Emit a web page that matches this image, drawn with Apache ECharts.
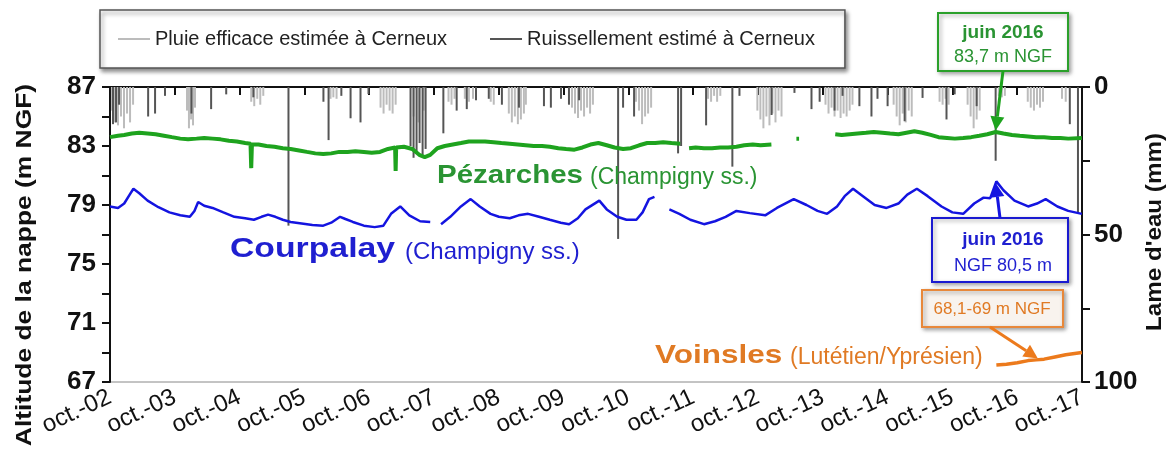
<!DOCTYPE html>
<html>
<head>
<meta charset="utf-8">
<script src="https://cdn.jsdelivr.net/npm/echarts@6/dist/echarts.min.js"></script>
<style>
  html, body { margin: 0; padding: 0; background: #fff; }
  #chart { width: 1173px; height: 461px; }
</style>
</head>
<body>
<div id="chart"></div>
<script>
// axis labels
const xTickLabels = ['oct.-02', 'oct.-03', 'oct.-04', 'oct.-05', 'oct.-06', 'oct.-07', 'oct.-08', 'oct.-09',
  'oct.-10', 'oct.-11', 'oct.-12', 'oct.-13', 'oct.-14', 'oct.-15', 'oct.-16', 'oct.-17']
const leftLabels = [67, 71, 75, 79, 83, 87]
const leftTicks = [67, 69, 71, 73, 75, 77, 79, 81, 83, 85, 87]
const rightLabels = [0, 50, 100]

// niveau de la nappe (m NGF), null = lacune
const pezarches = [
  ['2002-10-01', 83.6], ['2002-11-15', 83.7], ['2002-12-20', 83.75], ['2003-02-01', 83.85], ['2003-03-15', 83.9],
  ['2003-05-01', 83.85], ['2003-06-15', 83.8], ['2003-08-01', 83.7], ['2003-09-15', 83.6], ['2003-11-01', 83.5],
  ['2003-12-15', 83.45], ['2004-02-01', 83.5], ['2004-03-15', 83.55], ['2004-05-01', 83.5], ['2004-06-15', 83.45],
  ['2004-08-01', 83.35], ['2004-09-15', 83.3], ['2004-11-01', 83.2], ['2004-12-01', 83.15], ['2004-12-05', 81.5],
  ['2004-12-09', 83.1], ['2005-01-15', 83.1], ['2005-03-01', 83.0], ['2005-04-15', 82.95], ['2005-06-01', 82.85],
  ['2005-07-15', 82.8], ['2005-09-01', 82.7], ['2005-10-15', 82.6], ['2005-12-01', 82.5], ['2006-01-15', 82.45],
  ['2006-03-01', 82.5], ['2006-04-15', 82.6], ['2006-06-01', 82.6], ['2006-07-15', 82.65], ['2006-09-01', 82.6],
  ['2006-10-15', 82.55], ['2006-12-01', 82.6], ['2007-01-15', 82.8], ['2007-02-24', 82.9], ['2007-02-27', 81.3],
  ['2007-03-02', 82.9], ['2007-04-15', 82.95], ['2007-06-01', 82.8], ['2007-07-10', 82.4], ['2007-08-10', 82.25],
  ['2007-09-10', 82.4], ['2007-10-20', 82.85], ['2007-12-01', 83.0], ['2008-01-15', 83.1], ['2008-03-01', 83.2],
  ['2008-04-15', 83.3], ['2008-06-01', 83.3], ['2008-07-15', 83.3], ['2008-09-01', 83.25], ['2008-10-15', 83.2],
  ['2008-12-01', 83.15], ['2009-01-15', 83.1], ['2009-03-01', 83.05], ['2009-04-15', 83.0], ['2009-06-01', 83.0],
  ['2009-07-15', 82.95], ['2009-09-01', 82.85], ['2009-10-15', 82.8], ['2009-12-01', 82.75], ['2010-01-15', 82.9],
  ['2010-03-01', 83.1], ['2010-04-15', 83.2], ['2010-06-01', 83.05], ['2010-07-15', 82.9], ['2010-09-01', 82.8],
  ['2010-10-15', 82.85], ['2010-12-01', 83.05], ['2011-01-15', 83.2], ['2011-03-01', 83.2], ['2011-04-15', 83.25],
  ['2011-06-01', 83.2], ['2011-07-20', 83.15], ['2011-08-10', null], ['2011-09-08', 82.85], ['2011-10-15', 82.9],
  ['2011-12-01', 82.85], ['2012-01-15', 82.85], ['2012-03-01', 82.9], ['2012-04-15', 82.9], ['2012-06-01', 82.95],
  ['2012-07-15', 83.05], ['2012-09-01', 83.1], ['2012-10-15', 83.05], ['2012-12-15', 83.1], ['2013-02-01', null],
  ['2013-05-05', 83.5], ['2013-05-20', 83.5], ['2013-08-01', null], ['2013-12-10', 83.8], ['2014-01-15', 83.75],
  ['2014-03-01', 83.8], ['2014-04-15', 83.85], ['2014-06-01', 83.9], ['2014-07-15', 83.95], ['2014-09-01', 83.9],
  ['2014-10-15', 83.85], ['2014-12-01', 83.8], ['2015-01-15', 83.9], ['2015-03-01', 84.0], ['2015-04-15', 83.9],
  ['2015-06-01', 83.75], ['2015-07-15', 83.6], ['2015-09-01', 83.55], ['2015-10-15', 83.5], ['2015-12-01', 83.55],
  ['2016-01-15', 83.6], ['2016-03-01', 83.7], ['2016-04-15', 83.8], ['2016-06-01', 83.95], ['2016-07-15', 83.85],
  ['2016-09-01', 83.75], ['2016-10-15', 83.7], ['2016-12-01', 83.65], ['2017-01-15', 83.6], ['2017-03-01', 83.6],
  ['2017-04-15', 83.55], ['2017-06-01', 83.55], ['2017-07-15', 83.5], ['2017-09-30', 83.55]
]

const courpalay = [
  ['2002-10-01', 78.9], ['2002-11-15', 78.8], ['2002-12-20', 79.1], ['2003-01-20', 79.7], ['2003-02-10', 80.1],
  ['2003-03-15', 79.8], ['2003-05-01', 79.3], ['2003-07-01', 78.85], ['2003-09-01', 78.5], ['2003-11-01', 78.3],
  ['2003-12-25', 78.2], ['2004-01-20', 78.6], ['2004-02-10', 79.2], ['2004-03-15', 78.95], ['2004-05-01', 78.8],
  ['2004-07-01', 78.5], ['2004-09-01', 78.2], ['2004-11-01', 78.1], ['2004-12-20', 78.0], ['2005-02-01', 78.2],
  ['2005-03-10', 78.35], ['2005-04-20', 78.2], ['2005-06-01', 78.0], ['2005-07-15', 77.85], ['2005-09-15', 77.75],
  ['2005-11-15', 77.65], ['2006-01-15', 77.6], ['2006-03-01', 77.8], ['2006-04-20', 78.2], ['2006-05-20', 78.05],
  ['2006-07-01', 77.85], ['2006-09-01', 77.6], ['2006-11-01', 77.5], ['2006-12-20', 77.6], ['2007-02-01', 78.4],
  ['2007-03-25', 78.9], ['2007-05-15', 78.3], ['2007-07-15', 77.9], ['2007-09-10', 77.85], ['2007-10-05', null],
  ['2007-11-10', 77.7], ['2008-01-01', 78.2], ['2008-03-01', 78.9], ['2008-04-25', 79.4], ['2008-06-15', 78.9],
  ['2008-08-15', 78.4], ['2008-10-01', 78.2], ['2008-12-01', 78.1], ['2009-01-20', 78.3], ['2009-03-15', 78.4],
  ['2009-05-15', 78.2], ['2009-07-15', 78.0], ['2009-09-15', 77.8], ['2009-11-01', 77.7], ['2009-12-20', 78.1],
  ['2010-02-01', 78.7], ['2010-04-20', 79.3], ['2010-06-01', 78.7], ['2010-07-30', 78.2], ['2010-09-20', 78.0],
  ['2010-11-15', 78.0], ['2010-12-20', 78.5], ['2011-01-25', 79.4], ['2011-02-25', 79.55], ['2011-03-20', null],
  ['2011-05-20', 78.7], ['2011-07-15', 78.4], ['2011-09-15', 78.0], ['2011-12-01', 77.7], ['2012-02-01', 77.9],
  ['2012-04-01', 78.2], ['2012-06-01', 78.6], ['2012-08-15', 78.45], ['2012-11-10', 78.3], ['2013-01-15', 78.8],
  ['2013-04-20', 79.4], ['2013-07-01', 79.0], ['2013-09-01', 78.6], ['2013-10-25', 78.4], ['2013-12-20', 78.9],
  ['2014-02-01', 79.6], ['2014-03-20', 80.1], ['2014-05-15', 79.6], ['2014-07-20', 79.0], ['2014-09-25', 78.8],
  ['2014-12-01', 79.1], ['2015-01-20', 79.7], ['2015-03-15', 80.1], ['2015-05-15', 79.6], ['2015-08-01', 78.9],
  ['2015-10-01', 78.5], ['2015-12-01', 78.4], ['2016-02-01', 79.1], ['2016-03-25', 79.5], ['2016-05-01', 79.45],
  ['2016-06-05', 80.6], ['2016-07-15', 80.0], ['2016-09-15', 79.3], ['2016-12-01', 78.9], ['2017-01-20', 79.1],
  ['2017-03-10', 79.4], ['2017-05-15', 78.9], ['2017-07-15', 78.6], ['2017-09-30', 78.4]
]

const voinsles = [
  ['2016-06-05', 68.15], ['2016-08-01', 68.2], ['2016-10-01', 68.3], ['2016-12-01', 68.45], ['2017-01-15', 68.5],
  ['2017-03-01', 68.55], ['2017-05-01', 68.7], ['2017-07-01', 68.85], ['2017-09-30', 69.0]
]

// lame d'eau (mm)
const pluieEfficace = [
  ['2002-10-12', 8], ['2002-10-29', 12], ['2002-11-15', 13], ['2002-12-02', 10], ['2002-12-19', 14],
  ['2003-01-05', 9], ['2003-01-22', 12], ['2003-02-08', 6],
  ['2003-12-09', 8], ['2003-12-20', 14], ['2004-01-01', 11], ['2004-01-12', 13], ['2004-01-23', 7],
  ['2004-12-05', 5], ['2004-12-22', 6.5], ['2005-01-08', 4], ['2005-01-25', 6], ['2005-02-11', 3],
  ['2006-02-25', 4], ['2006-03-13', 3.5], ['2006-03-31', 4],
  ['2006-12-04', 7], ['2006-12-21', 9], ['2007-01-07', 6], ['2007-01-24', 8], ['2007-02-10', 9], ['2007-02-27', 6],
  ['2007-06-08', 10], ['2007-07-06', 12], ['2007-08-04', 8],
  ['2007-12-22', 5], ['2008-01-08', 6], ['2008-01-25', 4],
  ['2008-03-23', 4], ['2008-04-15', 5], ['2008-05-08', 4],
  ['2008-08-16', 5], ['2008-09-02', 6],
  ['2008-11-26', 9], ['2008-12-13', 12], ['2008-12-30', 10], ['2009-01-16', 12.6], ['2009-02-02', 11],
  ['2009-02-19', 9], ['2009-03-02', 6],
  ['2009-11-17', 7], ['2009-12-04', 9], ['2009-12-21', 10.5], ['2010-01-07', 8], ['2010-01-24', 10],
  ['2010-02-10', 7], ['2010-02-27', 9], ['2010-03-15', 6],
  ['2010-11-13', 5], ['2010-11-30', 8], ['2010-12-17', 12.6], ['2011-01-03', 10], ['2011-01-20', 9], ['2011-02-06', 7],
  ['2011-12-24', 4], ['2012-01-10', 5], ['2012-01-27', 3], ['2012-02-13', 5], ['2012-03-02', 3],
  ['2012-09-27', 8], ['2012-10-14', 11], ['2012-10-31', 14], ['2012-11-17', 10], ['2012-12-04', 13],
  ['2012-12-21', 9], ['2013-01-07', 12], ['2013-01-24', 8], ['2013-02-10', 10],
  ['2013-10-16', 6], ['2013-11-02', 9], ['2013-11-19', 7], ['2013-12-06', 10], ['2013-12-23', 8],
  ['2014-01-09', 10.5], ['2014-01-26', 9], ['2014-02-12', 10], ['2014-03-01', 8], ['2014-03-17', 6],
  ['2014-11-04', 6], ['2014-11-21', 10], ['2014-12-08', 13], ['2014-12-25', 9], ['2015-01-11', 12],
  ['2015-01-28', 8], ['2015-02-14', 10],
  ['2015-07-21', 5], ['2015-08-07', 6], ['2015-08-24', 4], ['2015-09-10', 6],
  ['2015-12-26', 6], ['2016-01-12', 10], ['2016-01-29', 14], ['2016-02-15', 11], ['2016-03-03', 8],
  ['2016-06-19', 3], ['2016-07-06', 3.5], ['2016-07-23', 3],
  ['2016-11-29', 5], ['2016-12-16', 7], ['2017-01-03', 8], ['2017-01-20', 6], ['2017-02-06', 7], ['2017-02-23', 5],
  ['2017-06-10', 4], ['2017-07-01', 5]
]

const ruissellement = [
  ['2002-10-18', 12.6], ['2002-11-04', 12], ['2002-11-21', 6], ['2003-05-04', 10], ['2003-06-12', 9],
  ['2003-08-07', 3], ['2004-01-03', 9], ['2004-04-23', 7.5], ['2004-07-17', 2.5], ['2004-12-17', 3.5],
  ['2005-07-03', 47], ['2006-01-16', 5], ['2006-02-14', 18], ['2006-04-27', 3], ['2006-06-18', 10.6],
  ['2006-08-13', 12], ['2006-09-27', 2.4], ['2007-05-22', 20], ['2007-06-08', 24], ['2007-06-25', 22],
  ['2007-07-12', 19], ['2007-07-29', 23], ['2007-08-15', 21], ['2007-11-23', 15.7], ['2008-02-06', 8],
  ['2008-04-03', 7.5], ['2008-05-25', 4.5], ['2008-08-05', 4], ['2008-10-18', 6], ['2009-01-22', 7],
  ['2009-06-12', 6.5], ['2009-07-21', 7], ['2009-09-16', 4], ['2009-10-31', 6], ['2009-12-27', 4.5],
  ['2010-08-04', 51.5], ['2010-09-01', 7], ['2010-11-02', 10], ['2011-07-08', 22.5], ['2011-07-25', 20],
  ['2011-12-13', 13], ['2012-05-09', 27], ['2012-06-18', 3], ['2012-12-16', 9.5], ['2013-04-24', 2],
  ['2013-07-29', 7.5], ['2013-09-13', 5], ['2013-12-06', 8], ['2014-01-20', 3], ['2014-04-25', 6.5],
  ['2014-07-02', 10], ['2014-08-05', 4], ['2014-10-01', 6.5], ['2015-01-05', 11.6], ['2015-04-16', 3.7],
  ['2015-08-29', 11], ['2015-10-14', 2.5], ['2016-02-15', 6.5], ['2016-06-01', 25], ['2017-07-24', 12.6],
  ['2017-09-08', 43]
]

const T0 = Date.UTC(2002, 9, 1)
const YEAR = 365.25 * 86400000
const toX = d => {
  const [y, m, dd] = d.split('-').map(Number)
  return (Date.UTC(y, m - 1, dd) - T0) / YEAR
}
const toPoints = arr => arr.map(([d, v]) => [toX(d), v == null ? '-' : v])

const FONT = '"Liberation Sans", Arial, sans-serif'
const chart = echarts.init(document.getElementById('chart'))

chart.setOption({
  animation: false,
  textStyle: { fontFamily: FONT },
  legend: {
    data: [
      { name: 'Pluie efficace estimée à Cerneux', icon: 'rect' },
      { name: 'Ruissellement estimé à Cerneux', icon: 'rect' }
    ],
    left: 100,
    top: 10,
    itemWidth: 32,
    itemHeight: 2,
    itemGap: 43,
    padding: [19, 30, 19, 18],
    borderColor: '#555',
    borderWidth: 1.5,
    backgroundColor: '#fff',
    shadowColor: 'rgba(0,0,0,0.45)',
    shadowBlur: 4,
    shadowOffsetX: 2,
    shadowOffsetY: 3,
    textStyle: { fontSize: 20, color: '#222', fontFamily: FONT }
  },
  grid: { left: 110, right: 91, top: 87, bottom: 79, show: true, borderColor: '#888', borderWidth: 1 },
  xAxis: {
    type: 'value',
    min: 0,
    max: 15,
    interval: 1,
    axisLine: { lineStyle: { color: '#111', width: 2 } },
    axisTick: { length: 8, lineStyle: { color: '#111', width: 2 } },
    splitLine: { show: false },
    axisLabel: {
      rotate: 25,
      margin: 14,
      fontSize: 24,
      color: '#111',
      fontFamily: FONT,
      formatter: v => xTickLabels[Math.round(v)]
    }
  },
  yAxis: [
    {
      type: 'value',
      min: 67,
      max: 87,
      interval: 2,
      axisLine: { show: true, lineStyle: { color: '#111', width: 2 } },
      axisTick: { show: true, length: 8, customValues: leftTicks, lineStyle: { color: '#111', width: 2 } },
      splitLine: { show: false },
      axisLabel: { customValues: leftLabels, fontSize: 26, fontWeight: 'bold', color: '#111', margin: 14, fontFamily: FONT }
    },
    {
      type: 'value',
      min: 0,
      max: 100,
      interval: 25,
      inverse: true,
      position: 'right',
      axisLine: { show: true, lineStyle: { color: '#111', width: 2 } },
      axisTick: { show: true, length: 8, lineStyle: { color: '#111', width: 2 } },
      splitLine: { show: false },
      axisLabel: {
        fontSize: 26, fontWeight: 'bold', color: '#111', margin: 12, fontFamily: FONT,
        formatter: v => (rightLabels.includes(v) ? String(v) : '')
      }
    }
  ],
  series: [
    {
      name: 'Pluie efficace estimée à Cerneux',
      type: 'bar',
      yAxisIndex: 1,
      barWidth: 2,
      barGap: '-100%',
      itemStyle: { color: '#bcbcbc' },
      data: toPoints(pluieEfficace)
    },
    {
      name: 'Ruissellement estimé à Cerneux',
      type: 'bar',
      yAxisIndex: 1,
      barWidth: 2,
      barGap: '-100%',
      itemStyle: { color: '#555' },
      data: toPoints(ruissellement)
    },
    {
      name: 'Pézarches',
      type: 'line',
      showSymbol: false,
      connectNulls: false,
      lineStyle: { color: '#1ea31e', width: 4 },
      itemStyle: { color: '#1ea31e' },
      data: toPoints(pezarches)
    },
    {
      name: 'Courpalay',
      type: 'line',
      showSymbol: false,
      connectNulls: false,
      lineStyle: { color: '#1414e0', width: 2.5 },
      itemStyle: { color: '#1414e0' },
      data: toPoints(courpalay)
    },
    {
      name: 'Voinsles',
      type: 'line',
      showSymbol: false,
      lineStyle: { color: '#ec7a1c', width: 3.5 },
      itemStyle: { color: '#ec7a1c' },
      data: toPoints(voinsles)
    }
  ]
})

// annotations
const px = (d, v) => chart.convertToPixel({ xAxisIndex: 0, yAxisIndex: 0 }, [toX(d), v])

function arrow(x1, y1, x2, y2, color, w) {
  const a = Math.atan2(y2 - y1, x2 - x1)
  const L = 14, W = 7
  const bx = x2 - L * Math.cos(a), by = y2 - L * Math.sin(a)
  const ox = -Math.sin(a) * W, oy = Math.cos(a) * W
  return [
    { type: 'line', z: 100, shape: { x1, y1, x2: bx, y2: by }, style: { stroke: color, lineWidth: w } },
    { type: 'polygon', z: 100, shape: { points: [[x2, y2], [bx + ox, by + oy], [bx - ox, by - oy]] }, style: { fill: color } }
  ]
}

function box(x, y, w, h, stroke, fill) {
  return {
    type: 'rect', z: 99, shape: { x, y, width: w, height: h },
    style: { fill, stroke, lineWidth: 2, shadowBlur: 4, shadowOffsetX: 2, shadowOffsetY: 2, shadowColor: 'rgba(0,0,0,0.35)' }
  }
}

function label(x, y, text, color, size, weight, align, sx) {
  return {
    type: 'text', z: 101, x, y, scaleX: sx || 1,
    style: {
      x: 0, y: 0, text, fill: color, font: `${weight} ${size}px ${FONT}`,
      align: align || 'left', verticalAlign: 'middle', textAlign: align || 'left', textVerticalAlign: 'middle'
    }
  }
}

function vlabel(x, y, text, sx) {
  return {
    type: 'text', z: 101, x, y, rotation: Math.PI / 2, scaleX: sx,
    style: {
      x: 0, y: 0, text, fill: '#111', font: `bold 22px ${FONT}`,
      align: 'center', verticalAlign: 'middle', textAlign: 'center', textVerticalAlign: 'middle'
    }
  }
}

const gTip = px('2016-06-01', 84.05)
const bTip = px('2016-06-01', 80.5)
const oTip = px('2017-01-25', 68.6)

chart.setOption({
  graphic: [
    vlabel(25, 265, 'Altitude de la nappe (m NGF)', 1.2),
    vlabel(1155, 232, "Lame d'eau (mm)", 1.1),

    label(437, 176, 'Pézarches', '#2a9433', 25, 'bold', 'left', 1.18),
    label(590, 178, '(Champigny ss.)', '#2a9433', 23, 'normal'),
    label(230, 250, 'Courpalay', '#1f1fd0', 27, 'bold', 'left', 1.25),
    label(405, 252, '(Champigny ss.)', '#1f1fd0', 24, 'normal'),
    label(655, 356, 'Voinsles', '#e07a24', 25, 'bold', 'left', 1.26),
    label(790, 358, '(Lutétien/Yprésien)', '#e07a24', 23, 'normal'),

    box(938, 13, 130, 58, '#2aa02a', '#fff'),
    label(1003, 33, 'juin 2016', '#2a9433', 19, 'bold', 'center'),
    label(1003, 57, '83,7 m NGF', '#2a9433', 18, 'normal', 'center'),
    ...arrow(1003, 71, gTip[0], gTip[1], '#1ea31e', 3),

    box(932, 218, 136, 64, '#1a1ad0', '#fff'),
    label(1003, 240, 'juin 2016', '#1f1fd0', 19, 'bold', 'center'),
    label(1003, 266, 'NGF 80,5 m', '#1f1fd0', 18, 'normal', 'center'),
    ...arrow(1000, 218, bTip[0], bTip[1], '#1414e0', 3),

    box(922, 290, 141, 37, '#e8883a', '#f8f3ee'),
    label(992, 309, '68,1-69 m NGF', '#e07a24', 17, 'normal', 'center'),
    ...arrow(990, 327, oTip[0], oTip[1], '#ec7a1c', 3)
  ]
})
</script>
</body>
</html>
